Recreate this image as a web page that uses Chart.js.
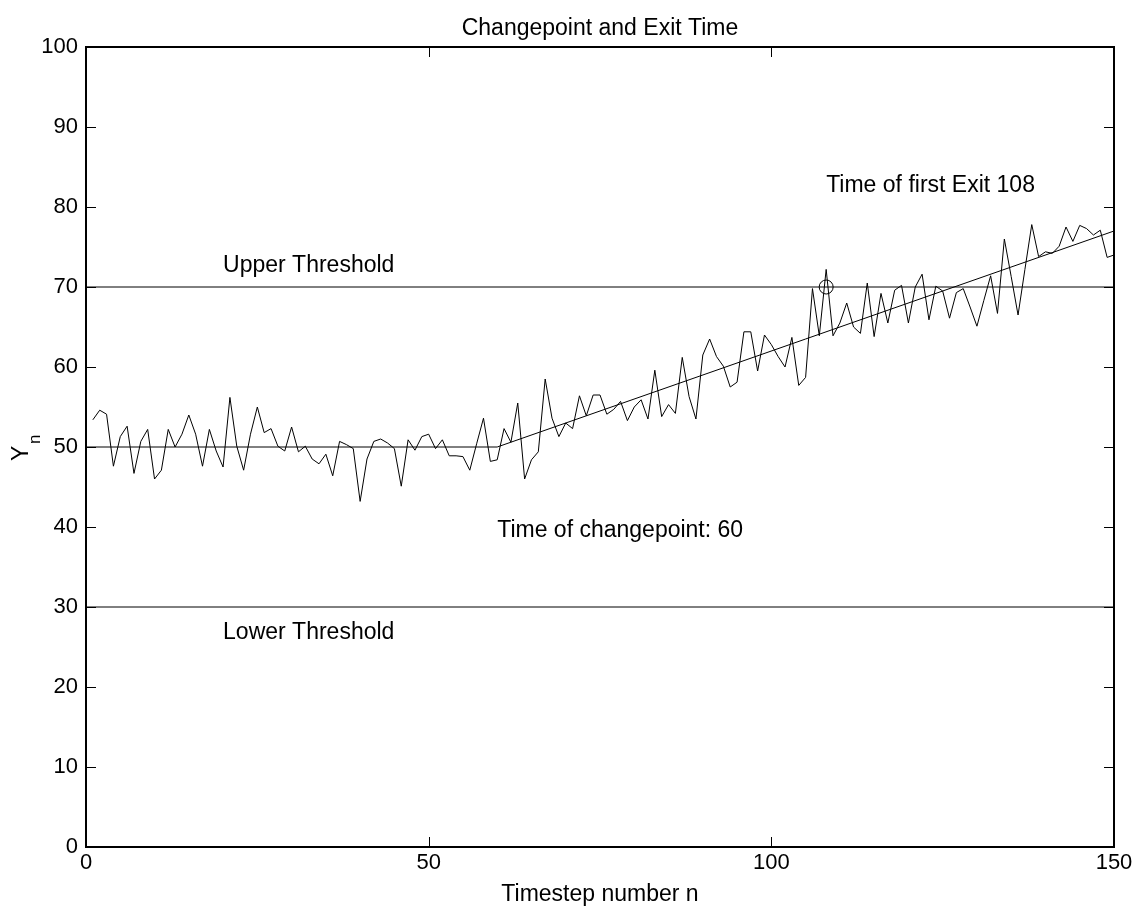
<!DOCTYPE html>
<html>
<head>
<meta charset="utf-8">
<script src="https://cdn.jsdelivr.net/npm/chart.js@4.4.1/dist/chart.umd.min.js"></script>
<style>
  html, body { margin: 0; padding: 0; background: #fff; }
  canvas { display: block; }
</style>
</head>
<body>
<canvas id="chart" width="1137" height="908"></canvas>
<script>
// observations Y_n, n = 1..150
const steps = Array.from({ length: 150 }, (_, i) => i + 1);
const yValues = [
    53.4, 54.6, 54.1, 47.6, 51.3, 52.6, 46.7, 50.7, 52.2, 46.0,
    47.1, 52.2, 50.0, 51.6, 54.0, 51.6, 47.6, 52.2, 49.5, 47.5,
    56.2, 50.1, 47.1, 51.6, 55.0, 51.8, 52.3, 50.1, 49.5, 52.5,
    49.4, 50.1, 48.5, 47.9, 49.1, 46.4, 50.7, 50.3, 49.8, 43.2,
    48.5, 50.7, 51.0, 50.5, 49.8, 45.1, 50.9, 49.6, 51.3, 51.6,
    49.8, 50.9, 48.9, 48.9, 48.8, 47.1, 50.4, 53.6, 48.2, 48.4,
    52.3, 50.6, 55.5, 46.0, 48.4, 49.4, 58.5, 53.6, 51.3, 53.0,
    52.3, 56.4, 53.9, 56.5, 56.5, 54.1, 54.7, 55.7, 53.3, 55.0,
    55.9, 53.5, 59.6, 53.8, 55.3, 54.2, 61.2, 56.3, 53.5, 61.5,
    63.5, 61.3, 60.1, 57.5, 58.1, 64.4, 64.4, 59.5, 64.0, 62.8,
    61.3, 60.0, 63.7, 57.7, 58.7, 69.8, 63.9, 72.2, 63.9, 65.5,
    68.0, 65.0, 64.2, 70.5, 63.8, 69.2, 65.5, 69.6, 70.2, 65.5,
    70.0, 71.6, 65.9, 70.1, 69.5, 66.1, 69.3, 69.8, 67.5, 65.1,
    68.3, 71.4, 66.7, 76.0, 71.3, 66.5, 72.2, 77.8, 73.8, 74.4,
    74.2, 75.1, 77.5, 75.7, 77.7, 77.3, 76.5, 77.1, 73.7, 74.0
];

// underlying mean: flat until the changepoint, then a ramp
const meanX = [0, 60, 150];
const meanY = [50, 50, 77];

const upperThreshold = 70;
const lowerThreshold = 30;
const thresholdX = [0, 150];

const exitTime = 108;
const changepoint = 60;

const xTicks = [0, 50, 100, 150];
const yTicks = [0, 10, 20, 30, 40, 50, 60, 70, 80, 90, 100];

const FONT = "Liberation Sans, Arial, Helvetica, sans-serif";
const FS = 23;      // labels and annotations
const TICK_FS = 22; // tick numbers

const toPoints = (xs, ys) => xs.map((x, i) => ({ x, y: ys[i] }));

const frame = {
    id: "frame",
    afterDraw(chart) {
        const { ctx, chartArea: a, scales: { x, y } } = chart;
        ctx.save();
        ctx.strokeStyle = "#000";
        ctx.fillStyle = "#000";

        // inward tick marks on all four sides
        ctx.lineWidth = 1;
        ctx.beginPath();
        xTicks.forEach(v => {
            const px = Math.round(x.getPixelForValue(v)) + 0.5;
            ctx.moveTo(px, a.bottom); ctx.lineTo(px, a.bottom - 10);
            ctx.moveTo(px, a.top); ctx.lineTo(px, a.top + 10);
        });
        yTicks.forEach(v => {
            const py = Math.round(y.getPixelForValue(v)) + 0.5;
            ctx.moveTo(a.left, py); ctx.lineTo(a.left + 10, py);
            ctx.moveTo(a.right, py); ctx.lineTo(a.right - 10, py);
        });
        ctx.stroke();

        // box
        ctx.lineWidth = 2;
        ctx.strokeRect(a.left, a.top, a.right - a.left, a.bottom - a.top);

        // annotations
        ctx.font = `${FS}px ${FONT}`;
        ctx.textAlign = "left";
        ctx.textBaseline = "alphabetic";
        ctx.fillText("Upper Threshold", x.getPixelForValue(20), y.getPixelForValue(71.9));
        ctx.fillText("Lower Threshold", x.getPixelForValue(20), y.getPixelForValue(26.0));
        ctx.fillText("Time of changepoint: " + changepoint, x.getPixelForValue(changepoint), y.getPixelForValue(38.8));
        ctx.fillText("Time of first Exit " + exitTime, x.getPixelForValue(exitTime), y.getPixelForValue(81.9));

        // title and x label
        ctx.textAlign = "center";
        ctx.fillText("Changepoint and Exit Time", (a.left + a.right) / 2, 35);
        ctx.fillText("Timestep number n", (a.left + a.right) / 2, 901);

        // Y_n, rotated
        ctx.translate(28, 461);
        ctx.rotate(-Math.PI / 2);
        ctx.textAlign = "left";
        ctx.fillText("Y", 0, 0);
        ctx.font = `17px ${FONT}`;
        ctx.fillText("n", 17, 12);
        ctx.restore();
    }
};

const lineStyle = {
    showLine: true,
    borderColor: "#000",
    borderWidth: 1,
    pointRadius: 0,
    fill: false,
    tension: 0
};

new Chart(document.getElementById("chart"), {
    type: "scatter",
    data: {
        datasets: [
            { ...lineStyle, data: toPoints(steps, yValues) },
            { ...lineStyle, data: toPoints(meanX, meanY) },
            { ...lineStyle, data: toPoints(thresholdX, thresholdX.map(() => upperThreshold)) },
            { ...lineStyle, data: toPoints(thresholdX, thresholdX.map(() => lowerThreshold)) },
            {
                data: [{ x: exitTime, y: upperThreshold }],
                showLine: false,
                pointStyle: "circle",
                pointRadius: 7,
                pointBorderColor: "#000",
                pointBackgroundColor: "rgba(0,0,0,0)",
                pointBorderWidth: 1
            }
        ]
    },
    options: {
        responsive: false,
        animation: false,
        layout: { padding: { left: 0, top: 47, right: 23, bottom: 0 } },
        plugins: {
            legend: { display: false },
            tooltip: { enabled: false }
        },
        scales: {
            x: {
                type: "linear",
                min: 0,
                max: 150,
                grid: { display: false, drawTicks: false },
                border: { display: false },
                afterFit: s => { s.height = 61; },
                afterBuildTicks: s => { s.ticks = xTicks.map(v => ({ value: v })); },
                ticks: {
                    color: "#000",
                    padding: 3,
                    maxRotation: 0,
                    font: { family: FONT, size: TICK_FS }
                }
            },
            y: {
                type: "linear",
                min: 0,
                max: 100,
                grid: { display: false, drawTicks: false },
                border: { display: false },
                afterFit: s => { s.width = 86; },
                afterBuildTicks: s => { s.ticks = yTicks.map(v => ({ value: v })); },
                ticks: {
                    color: "#000",
                    padding: 8,
                    font: { family: FONT, size: TICK_FS }
                }
            }
        }
    },
    plugins: [frame]
});
</script>
</body>
</html>
